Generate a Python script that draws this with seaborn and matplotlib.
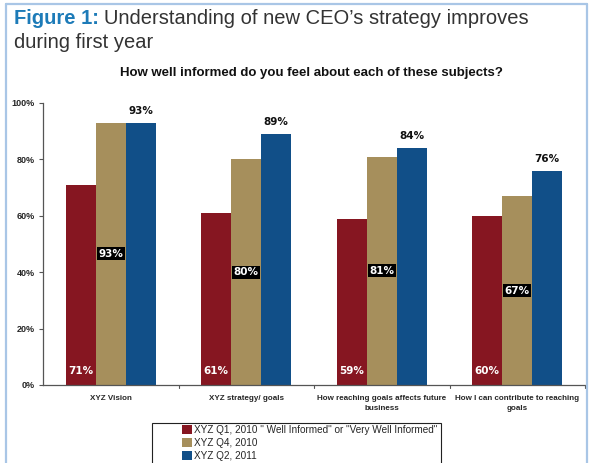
import matplotlib
matplotlib.use("Agg")
import matplotlib.pyplot as plt
import seaborn as sns
import pandas as pd
from matplotlib.patches import Rectangle
from matplotlib.lines import Line2D

categories = ["XYZ Vision", "XYZ strategy/ goals",
              "How reaching goals affects future\nbusiness",
              "How I can contribute to reaching\ngoals"]
series = ["XYZ Q1, 2010 \" Well Informed\" or \"Very Well Informed\"",
          "XYZ Q4, 2010", "XYZ Q2, 2011"]
q1_2010 = [71, 61, 59, 60]
q4_2010 = [93, 80, 81, 67]
q2_2011 = [93, 89, 84, 76]
colors = ["#861621", "#a68f5c", "#114f88"]
yticks = [0, 20, 40, 60, 80, 100]

rows = []
for s, vals in zip(series, [q1_2010, q4_2010, q2_2011]):
    for c, v in zip(categories, vals):
        rows.append({"cat": c, "series": s, "val": v})
df = pd.DataFrame(rows)

sns.set_style("white")
plt.rcParams["font.family"] = ["Liberation Sans", "DejaVu Sans"]

fig = plt.figure(figsize=(5.93, 4.63), dpi=100)
ax = fig.add_axes([43/593, 1-385/463, (585-43)/593, (385-103)/463])

sns.barplot(data=df, x="cat", y="val", hue="series", order=categories,
            hue_order=series, palette=colors, width=0.665, gap=0,
            saturation=1, ax=ax, legend=False, linewidth=0)

ax.set_ylim(0, 100)
ax.set_xlim(-0.5, 3.5)
ax.set_yticks(yticks)
ax.set_yticklabels([f"{t}%" for t in yticks], fontsize=6.5, fontweight="bold")
ax.set_xticks([0, 1, 2, 3])
ax.set_xticklabels(categories, fontsize=5.8, fontweight="bold",
                   linespacing=1.75)
ax.tick_params(axis="x", length=0, pad=7)
ax.tick_params(axis="y", length=3, direction="out", left=True, width=0.8,
               color="#555555", pad=3)
for b in [0.5, 1.5, 2.5, 3.5]:
    ax.plot([b, b], [0, -1.2], color="#555555", lw=0.8, clip_on=False)
ax.set_xlabel("")
ax.set_ylabel("")
for sp in ["top", "right"]:
    ax.spines[sp].set_visible(False)
for sp in ["left", "bottom"]:
    ax.spines[sp].set_color("#555555")
    ax.spines[sp].set_linewidth(0.9)

conts = ax.containers
for bar, v in zip(conts[0], q1_2010):
    ax.text(bar.get_x() + bar.get_width()/2, 5, f"{v}%", ha="center",
            va="center", color="white", fontsize=7.5, fontweight="bold",
            family="DejaVu Sans")
for bar, v in zip(conts[1], q4_2010):
    ax.text(bar.get_x() + bar.get_width()/2, v/2, f"{v}%", ha="center",
            va="center", color="white", fontsize=7.5, fontweight="bold",
            family="DejaVu Sans",
            bbox=dict(boxstyle="square,pad=0.15", fc="black", ec="none"))
for bar, v in zip(conts[2], q2_2011):
    ax.text(bar.get_x() + bar.get_width()/2, v + 4.3, f"{v}%", ha="center",
            va="center", color="#111111", fontsize=7.5, fontweight="bold",
            family="DejaVu Sans")

# Titles
t1 = fig.text(14/593, 1-18/463, "Figure 1:", fontsize=14.5, fontweight="bold",
              color="#1d7bb8", va="center", ha="left")
fig.canvas.draw()
bb = t1.get_window_extent()
fig.text((bb.x1 + 5)/593, 1-18/463, "Understanding of new CEO\u2019s strategy improves",
         fontsize=14.5, color="#333333", va="center", ha="left")
fig.text(14/593, 1-42/463, "during first year", fontsize=14.5, color="#333333",
         va="center", ha="left")
fig.text(311/593, 1-73/463, "How well informed do you feel about each of these subjects?",
         fontsize=9.5, fontweight="bold", color="#111111", ha="center", va="center")

# Legend
handles = [Rectangle((0, 0), 1, 1, fc=c, ec="none") for c in colors]
leg = fig.legend(handles, series, loc="upper left",
                 bbox_to_anchor=(180/593, 1-423/463), frameon=False,
                 fontsize=7.2, handlelength=1.0, handleheight=1.0,
                 handletextpad=0.2, labelspacing=0.3, borderpad=0.2,
                 borderaxespad=0)
fig.add_artist(Rectangle((152/593, -0.01), (441-152)/593, (463-423)/463 + 0.01,
                         transform=fig.transFigure, fill=False, ec="#222222",
                         lw=0.8))

# Light blue page frame
fc = "#a9c6e6"
fig.add_artist(Line2D([6/593, 6/593], [0, 1-4/463], transform=fig.transFigure,
                      color=fc, lw=1.6))
fig.add_artist(Line2D([587/593, 587/593], [0, 1-4/463], transform=fig.transFigure,
                      color=fc, lw=1.6))
fig.add_artist(Line2D([6/593, 587/593], [1-4/463, 1-4/463], transform=fig.transFigure,
                      color=fc, lw=1.6))

fig.savefig("out.png", dpi=100)
